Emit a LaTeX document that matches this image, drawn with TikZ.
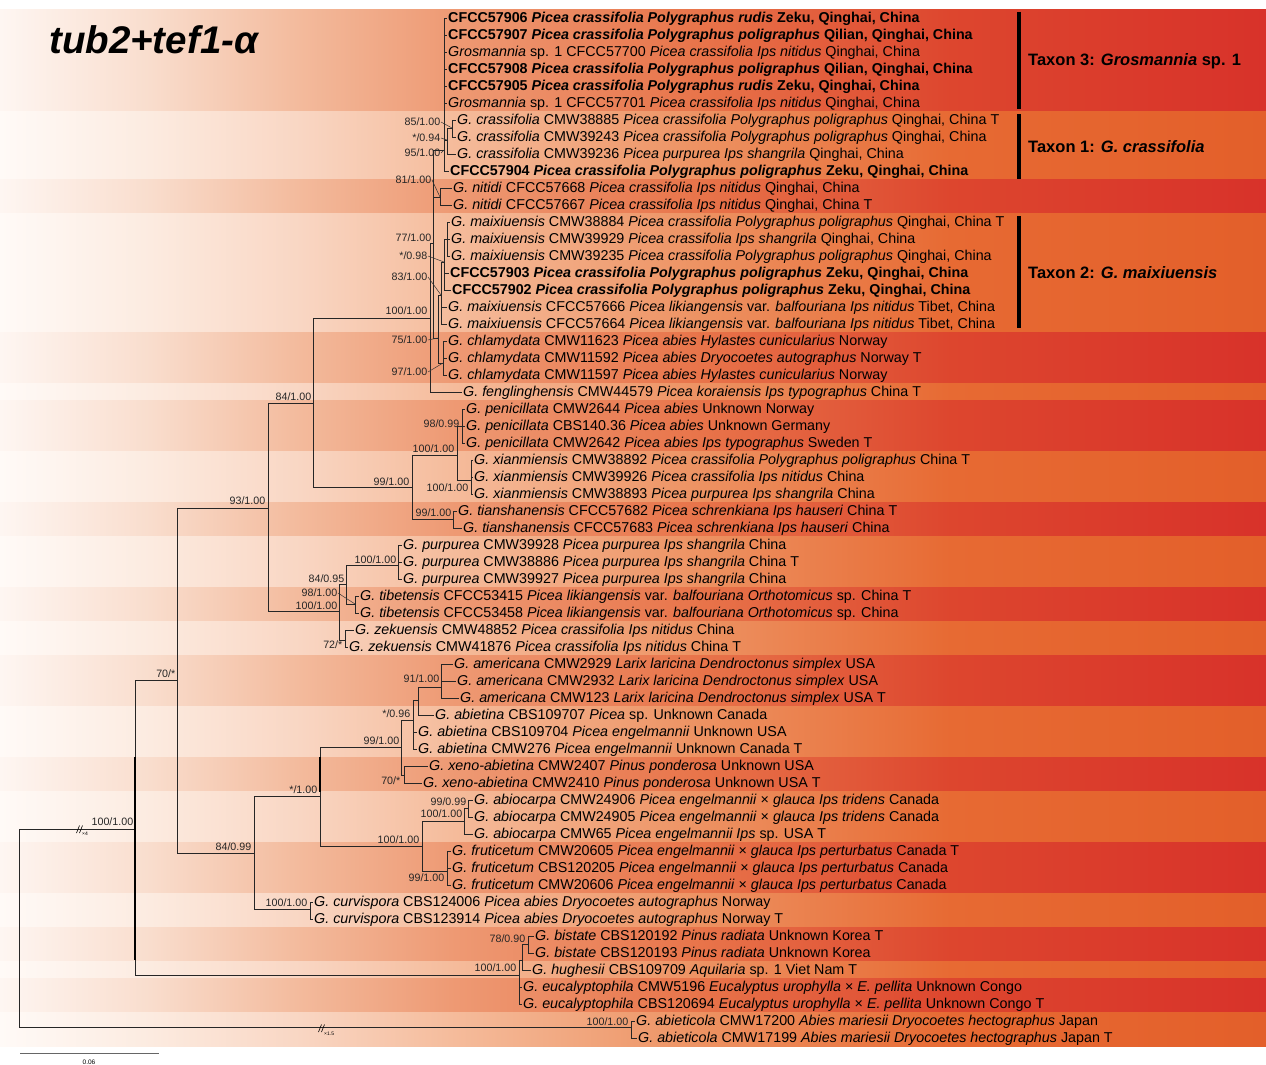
\documentclass[tikz,border=0pt]{standalone}
\usepackage{fontspec}
\setmainfont{Liberation Sans}
\definecolor{r0}{HTML}{FEF6F2}\definecolor{r1}{HTML}{F9DDCD}\definecolor{r2}{HTML}{F3BA9C}
\definecolor{r3}{HTML}{EE9A74}\definecolor{r4}{HTML}{E8744A}\definecolor{r5}{HTML}{DD462E}\definecolor{r6}{HTML}{D8322A}
\definecolor{o0}{HTML}{FFFAF7}\definecolor{o1}{HTML}{FCEBE0}\definecolor{o2}{HTML}{F9D6C3}
\definecolor{o3}{HTML}{F5BC9C}\definecolor{o4}{HTML}{ED9262}\definecolor{o5}{HTML}{E76A33}\definecolor{o6}{HTML}{E35F2A}
\newcommand{\bandrow}[3]{%
  \foreach \xa/\xb/\ia/\ib in {0/150/0/1,150/300/1/2,300/450/2/3,450/700/3/4,700/950/4/5,950/1266/5/6}{
    \shade[left color=#1\ia, right color=#1\ib] (\xa,#2) rectangle (\xb+0.7,#3);
  }}
\begin{document}
\begin{tikzpicture}[x=1pt,y=-1pt,
  br/.style={draw=black!85, line width=0.8pt},
  tip/.style={anchor=west, inner sep=1.5pt, font=\fontsize{14.3}{16}\selectfont, text height=10.5pt, text depth=1.5pt},
  supp/.style={anchor=east, inner sep=0.5pt, font=\fontsize{10.7}{12}\selectfont, text=black!85},
  lead/.style={draw=black!80, line width=0.5pt},
  taxbar/.style={line width=3.2pt, draw=black},
  taxlab/.style={anchor=west, inner sep=0pt, font=\fontsize{16.5}{18}\bfseries\selectfont},
]
\useasboundingbox (0,0) rectangle (1266,1065);
\fill[white] (0,0) rectangle (1266,1065);
% background bands
\bandrow{r}{9.5}{111.5}
\bandrow{o}{111.5}{179.5}
\bandrow{r}{179.5}{213.5}
\bandrow{o}{213.5}{332.5}
\bandrow{r}{332.5}{383.5}
\bandrow{o}{383.5}{400.5}
\bandrow{r}{400.5}{451.5}
\bandrow{o}{451.5}{502.5}
\bandrow{r}{502.5}{536.5}
\bandrow{o}{536.5}{587.5}
\bandrow{r}{587.5}{621.5}
\bandrow{o}{621.5}{655.5}
\bandrow{r}{655.5}{706.5}
\bandrow{o}{706.5}{757.5}
\bandrow{r}{757.5}{791.5}
\bandrow{o}{791.5}{842.5}
\bandrow{r}{842.5}{893.5}
\bandrow{o}{893.5}{927.5}
\bandrow{r}{927.5}{961.5}
\bandrow{o}{961.5}{978.5}
\bandrow{r}{978.5}{1012.5}
\bandrow{o}{1012.5}{1046}

% title
\node[anchor=base west, inner sep=0pt, font=\fontsize{38.5}{40}\bfseries\itshape\selectfont] (title) at (49,53) {tub2+tef1-α};

% tips
\node[tip] (t1) at (446.5,18) {\textbf{CFCC57906 \textit{Picea crassifolia Polygraphus rudis} Zeku, Qinghai, China}};
\node[tip] (t2) at (446.5,35) {\textbf{CFCC57907 \textit{Picea crassifolia Polygraphus poligraphus} Qilian, Qinghai, China}};
\node[tip] (t3) at (446.5,52) {\textit{Grosmannia} sp. 1 CFCC57700 \textit{Picea crassifolia Ips nitidus} Qinghai, China};
\node[tip] (t4) at (446.5,69) {\textbf{CFCC57908 \textit{Picea crassifolia Polygraphus poligraphus} Qilian, Qinghai, China}};
\node[tip] (t5) at (446.5,86) {\textbf{CFCC57905 \textit{Picea crassifolia Polygraphus rudis} Zeku, Qinghai, China}};
\node[tip] (t6) at (446.5,103) {\textit{Grosmannia} sp. 1 CFCC57701 \textit{Picea crassifolia Ips nitidus} Qinghai, China};
\node[tip] (t7) at (455.5,120) {\textit{G. crassifolia} CMW38885 \textit{Picea crassifolia Polygraphus poligraphus} Qinghai, China T};
\node[tip] (t8) at (455.5,137) {\textit{G. crassifolia} CMW39243 \textit{Picea crassifolia Polygraphus poligraphus} Qinghai, China};
\node[tip] (t9) at (455.5,154) {\textit{G. crassifolia} CMW39236 \textit{Picea purpurea Ips shangrila} Qinghai, China};
\node[tip] (t10) at (448.5,171) {\textbf{CFCC57904 \textit{Picea crassifolia Polygraphus poligraphus} Zeku, Qinghai, China}};
\node[tip] (t11) at (451.5,188) {\textit{G. nitidi} CFCC57668 \textit{Picea crassifolia Ips nitidus} Qinghai, China};
\node[tip] (t12) at (451.5,205) {\textit{G. nitidi} CFCC57667 \textit{Picea crassifolia Ips nitidus} Qinghai, China T};
\node[tip] (t13) at (449.5,222) {\textit{G. maixiuensis} CMW38884 \textit{Picea crassifolia Polygraphus poligraphus} Qinghai, China T};
\node[tip] (t14) at (449.5,239) {\textit{G. maixiuensis} CMW39929 \textit{Picea crassifolia Ips shangrila} Qinghai, China};
\node[tip] (t15) at (449.5,256) {\textit{G. maixiuensis} CMW39235 \textit{Picea crassifolia Polygraphus poligraphus} Qinghai, China};
\node[tip] (t16) at (448.5,273) {\textbf{CFCC57903 \textit{Picea crassifolia Polygraphus poligraphus} Zeku, Qinghai, China}};
\node[tip] (t17) at (450.5,290) {\textbf{CFCC57902 \textit{Picea crassifolia Polygraphus poligraphus} Zeku, Qinghai, China}};
\node[tip] (t18) at (446.5,307) {\textit{G. maixiuensis} CFCC57666 \textit{Picea likiangensis} var. \textit{balfouriana Ips nitidus} Tibet, China};
\node[tip] (t19) at (446.5,324) {\textit{G. maixiuensis} CFCC57664 \textit{Picea likiangensis} var. \textit{balfouriana Ips nitidus} Tibet, China};
\node[tip] (t20) at (446.5,341) {\textit{G. chlamydata} CMW11623 \textit{Picea abies Hylastes cunicularius} Norway};
\node[tip] (t21) at (446.5,358) {\textit{G. chlamydata} CMW11592 \textit{Picea abies Dryocoetes autographus} Norway T};
\node[tip] (t22) at (446.5,375) {\textit{G. chlamydata} CMW11597 \textit{Picea abies Hylastes cunicularius} Norway};
\node[tip] (t23) at (461.5,392) {\textit{G. fenglinghensis} CMW44579 \textit{Picea koraiensis Ips typographus} China T};
\node[tip] (t24) at (464.5,409) {\textit{G. penicillata} CMW2644 \textit{Picea abies} Unknown Norway};
\node[tip] (t25) at (464.5,426) {\textit{G. penicillata} CBS140.36 \textit{Picea abies} Unknown Germany};
\node[tip] (t26) at (464.5,443) {\textit{G. penicillata} CMW2642 \textit{Picea abies Ips typographus} Sweden T};
\node[tip] (t27) at (472.5,460) {\textit{G. xianmiensis} CMW38892 \textit{Picea crassifolia Polygraphus poligraphus} China T};
\node[tip] (t28) at (472.5,477) {\textit{G. xianmiensis} CMW39926 \textit{Picea crassifolia Ips nitidus} China};
\node[tip] (t29) at (472.5,494) {\textit{G. xianmiensis} CMW38893 \textit{Picea purpurea Ips shangrila} China};
\node[tip] (t30) at (456.5,511) {\textit{G. tianshanensis} CFCC57682 \textit{Picea schrenkiana Ips hauseri} China T};
\node[tip] (t31) at (461.5,528) {\textit{G. tianshanensis} CFCC57683 \textit{Picea schrenkiana Ips hauseri} China};
\node[tip] (t32) at (401.5,545) {\textit{G. purpurea} CMW39928 \textit{Picea purpurea Ips shangrila} China};
\node[tip] (t33) at (401.5,562) {\textit{G. purpurea} CMW38886 \textit{Picea purpurea Ips shangrila} China T};
\node[tip] (t34) at (401.5,579) {\textit{G. purpurea} CMW39927 \textit{Picea purpurea Ips shangrila} China};
\node[tip] (t35) at (358.5,596) {\textit{G. tibetensis} CFCC53415 \textit{Picea likiangensis} var. \textit{balfouriana Orthotomicus} sp. China T};
\node[tip] (t36) at (358.5,613) {\textit{G. tibetensis} CFCC53458 \textit{Picea likiangensis} var. \textit{balfouriana Orthotomicus} sp. China};
\node[tip] (t37) at (353.5,630) {\textit{G. zekuensis} CMW48852 \textit{Picea crassifolia Ips nitidus} China};
\node[tip] (t38) at (347.5,647) {\textit{G. zekuensis} CMW41876 \textit{Picea crassifolia Ips nitidus} China T};
\node[tip] (t39) at (452.5,664) {\textit{G. americana} CMW2929 \textit{Larix laricina Dendroctonus simplex} USA};
\node[tip] (t40) at (455.5,681) {\textit{G. americana} CMW2932 \textit{Larix laricina Dendroctonus simplex} USA};
\node[tip] (t41) at (458.5,698) {\textit{G. americana} CMW123 \textit{Larix laricina Dendroctonus simplex} USA T};
\node[tip] (t42) at (433.5,715) {\textit{G. abietina} CBS109707 \textit{Picea} sp. Unknown Canada};
\node[tip] (t43) at (416.5,732) {\textit{G. abietina} CBS109704 \textit{Picea engelmannii} Unknown USA};
\node[tip] (t44) at (416.5,749) {\textit{G. abietina} CMW276 \textit{Picea engelmannii} Unknown Canada T};
\node[tip] (t45) at (427.5,766) {\textit{G. xeno-abietina} CMW2407 \textit{Pinus ponderosa} Unknown USA};
\node[tip] (t46) at (421.5,783) {\textit{G. xeno-abietina} CMW2410 \textit{Pinus ponderosa} Unknown USA T};
\node[tip] (t47) at (472.5,800) {\textit{G. abiocarpa} CMW24906 \textit{Picea engelmannii} × \textit{glauca Ips tridens} Canada};
\node[tip] (t48) at (472.5,817) {\textit{G. abiocarpa} CMW24905 \textit{Picea engelmannii} × \textit{glauca Ips tridens} Canada};
\node[tip] (t49) at (472.5,834) {\textit{G. abiocarpa} CMW65 \textit{Picea engelmannii Ips} sp. USA T};
\node[tip] (t50) at (450.5,851) {\textit{G. fruticetum} CMW20605 \textit{Picea engelmannii} × \textit{glauca Ips perturbatus} Canada T};
\node[tip] (t51) at (450.5,868) {\textit{G. fruticetum} CBS120205 \textit{Picea engelmannii} × \textit{glauca Ips perturbatus} Canada};
\node[tip] (t52) at (450.5,885) {\textit{G. fruticetum} CMW20606 \textit{Picea engelmannii} × \textit{glauca Ips perturbatus} Canada};
\node[tip] (t53) at (312.5,902) {\textit{G. curvispora} CBS124006 \textit{Picea abies Dryocoetes autographus} Norway};
\node[tip] (t54) at (312.5,919) {\textit{G. curvispora} CBS123914 \textit{Picea abies Dryocoetes autographus} Norway T};
\node[tip] (t55) at (533.5,936) {\textit{G. bistate} CBS120192 \textit{Pinus radiata} Unknown Korea T};
\node[tip] (t56) at (533.5,953) {\textit{G. bistate} CBS120193 \textit{Pinus radiata} Unknown Korea};
\node[tip] (t57) at (530.5,970) {\textit{G. hughesii} CBS109709 \textit{Aquilaria} sp. 1 Viet Nam T};
\node[tip] (t58) at (521.5,987) {\textit{G. eucalyptophila} CMW5196 \textit{Eucalyptus urophylla} × \textit{E. pellita} Unknown Congo};
\node[tip] (t59) at (521.5,1004) {\textit{G. eucalyptophila} CBS120694 \textit{Eucalyptus urophylla} × \textit{E. pellita} Unknown Congo T};
\node[tip] (t60) at (634.5,1021) {\textit{G. abieticola} CMW17200 \textit{Abies mariesii Dryocoetes hectographus} Japan};
\node[tip] (t61) at (636.5,1038) {\textit{G. abieticola} CMW17199 \textit{Abies mariesii Dryocoetes hectographus} Japan T};

% internal nodes
\coordinate (R0) at (19,928);
\coordinate (A) at (135,829);
\coordinate (B) at (177,680);
\coordinate (C) at (268,508);
\coordinate (E) at (313,403);
\coordinate (F) at (430,318);
\coordinate (F1) at (433,243);
\coordinate (NT3) at (444,150);
\coordinate (Ncr) at (447,140);
\coordinate (Ncr2) at (452,128);
\coordinate (Nnit) at (440,197);
\coordinate (N75) at (438,338);
\coordinate (N83) at (441,295);
\coordinate (N098) at (444,262);
\coordinate (N77) at (447,239);
\coordinate (Nch) at (443,363);
\coordinate (G) at (412,487);
\coordinate (H) at (457,455);
\coordinate (P) at (462,426);
\coordinate (X) at (471,480);
\coordinate (Nti) at (453,519);
\coordinate (D) at (339,611);
\coordinate (N84) at (346,584);
\coordinate (Npu) at (398,565);
\coordinate (Ntb) at (355,604);
\coordinate (Nzk) at (345,640);
\coordinate (I) at (254,853);
\coordinate (J) at (320,796);
\coordinate (K) at (401,747);
\coordinate (N096) at (413,720);
\coordinate (Na) at (418,700);
\coordinate (Nam) at (441,687);
\coordinate (Nxe) at (404,775);
\coordinate (L) at (422,846);
\coordinate (M) at (464,821);
\coordinate (M2) at (468.5,808);
\coordinate (Nfr) at (447,871);
\coordinate (Ncu) at (310,909);
\coordinate (Q) at (519,975);
\coordinate (Rr) at (522,960);
\coordinate (Nbi) at (528,944);
\coordinate (Ab) at (631,1027);

% branches
\foreach \p/\c in {R0/A, R0/Ab, A/B, A/Q, B/C, B/I, C/E, C/D, E/F, E/G,
  F/F1, F/t23.west, F1/NT3, F1/Nnit, F1/N75,
  NT3/t1.west, NT3/t2.west, NT3/t3.west, NT3/t4.west, NT3/t5.west, NT3/t6.west, NT3/Ncr, NT3/t10.west,
  Ncr/Ncr2, Ncr/t9.west, Ncr2/t7.west, Ncr2/t8.west, Nnit/t11.west, Nnit/t12.west,
  N75/N83, N75/Nch, N83/N098, N83/t18.west, N83/t19.west, N098/N77, N098/t16.west, N098/t17.west,
  N77/t13.west, N77/t14.west, N77/t15.west, Nch/t20.west, Nch/t21.west, Nch/t22.west,
  G/H, G/Nti, H/P, H/X, P/t24.west, P/t25.west, P/t26.west, X/t27.west, X/t28.west, X/t29.west,
  Nti/t30.west, Nti/t31.west,
  D/N84, D/Nzk, N84/Npu, N84/Ntb, Npu/t32.west, Npu/t33.west, Npu/t34.west, Ntb/t35.west, Ntb/t36.west,
  Nzk/t37.west, Nzk/t38.west,
  I/J, I/Ncu, J/K, J/L, K/N096, K/Nxe, N096/Na, N096/t43.west, N096/t44.west, Na/Nam, Na/t42.west,
  Nam/t39.west, Nam/t40.west, Nam/t41.west, Nxe/t45.west, Nxe/t46.west,
  L/M, L/Nfr, M/M2, M/t49.west, M2/t47.west, M2/t48.west, Nfr/t50.west, Nfr/t51.west, Nfr/t52.west,
  Ncu/t53.west, Ncu/t54.west,
  Q/Rr, Q/t58.west, Q/t59.west, Rr/Nbi, Rr/t57.west, Nbi/t55.west, Nbi/t56.west,
  Ab/t60.west, Ab/t61.west}
  {\draw[br] (\p) |- (\c);}
% thicker overlapping segments
\draw[black, line width=1.8pt] (135,757) -- (135,960);
\draw[black, line width=1.8pt] (320,757) -- (320,792);

% support values
\node[supp] (sA) at (134,822) {100/1.00};
\node[supp] (sB) at (176,674) {70/*};
\node[supp] (sC) at (266,501) {93/1.00};
\node[supp] (sE) at (312,397) {84/1.00};
\node[supp] (sF) at (428,311) {100/1.00};
\node[supp] (sG) at (410,482) {99/1.00};
\node[supp] (sH) at (455,449) {100/1.00};
\node[supp] (sP) at (460,424) {98/0.99};
\node[supp] (sX) at (469,488) {100/1.00};
\node[supp] (sTi) at (452,513) {99/1.00};
\node[supp] (sPu) at (397,560) {100/1.00};
\node[supp] (s84) at (345,579) {84/0.95};
\node[supp] (sTb) at (338,593) {98/1.00};
\node[supp] (sD) at (338,606) {100/1.00};
\node[supp] (sZk) at (343,645) {72/*};
\node[supp] (sI) at (252,847) {84/0.99};
\node[supp] (sJ) at (318,790) {*/1.00};
\node[supp] (sK) at (400,741) {99/1.00};
\node[supp] (s096) at (411,714) {*/0.96};
\node[supp] (sAm) at (440,679) {91/1.00};
\node[supp] (sXe) at (401,781) {70/*};
\node[supp] (sM2) at (467,802) {99/0.99};
\node[supp] (sM) at (463,814) {100/1.00};
\node[supp] (sL) at (420,840) {100/1.00};
\node[supp] (sFr) at (445,878) {99/1.00};
\node[supp] (sCu) at (308,903) {100/1.00};
\node[supp] (sBi) at (526,939) {78/0.90};
\node[supp] (sQ) at (517,968) {100/1.00};
\node[supp] (sAb) at (629,1022) {100/1.00};
\node[supp] (s85) at (441,122) {85/1.00};
\node[supp] (s094) at (441,138) {*/0.94};
\node[supp] (s95) at (441,153) {95/1.00};
\node[supp] (s81) at (432,180) {81/1.00};
\node[supp] (s77) at (432,238) {77/1.00};
\node[supp] (s098) at (428,256) {*/0.98};
\node[supp] (s83) at (428,277) {83/1.00};
\node[supp] (s75) at (428,340) {75/1.00};
\node[supp] (s97) at (428,372) {97/1.00};
% leaders
\draw[lead] (s85.east) -- (Ncr2);
\draw[lead] (s094.east) -- (Ncr);
\draw[lead] (s95.east) -- (NT3);
\draw[lead] (s81.east) -- (Nnit);
\draw[lead] (s098.east) -- (N098);
\draw[lead] (s83.east) -- (N83);
\draw[lead] (s75.east) -- (N75);
\draw[lead] (s97.east) -- (Nch);
\draw[lead] (sTb.east) -- (Ntb);

% branch breaks
\draw[black, line width=0.6pt] (76.5,833) -- (79.5,825.5) (79.5,833) -- (82.5,825.5);
\node[anchor=west, inner sep=0pt, font=\fontsize{5}{5}\selectfont] (bk1) at (82,834) {×4};
\draw[black, line width=0.6pt] (318.5,1032) -- (321.5,1024.5) (321.5,1032) -- (324.5,1024.5);
\node[anchor=west, inner sep=0pt, font=\fontsize{5}{5}\selectfont] (bk2) at (324,1034) {×1.5};

% scale bar
\draw[black!60, line width=0.9pt] (20,1053) -- (159,1053);
\node[inner sep=0pt, font=\fontsize{6.5}{7}\selectfont] (sc) at (89,1062) {0.06};

% taxon bars
\draw[taxbar] (1019,12) -- (1019,109);
\draw[taxbar] (1019,114) -- (1019,179);
\draw[taxbar] (1019,216) -- (1019,328);
\node[taxlab] (tx3) at (1028,61.5) {Taxon 3: \textit{Grosmannia} sp. 1};
\node[taxlab] (tx1) at (1028,147) {Taxon 1: \textit{G. crassifolia}};
\node[taxlab] (tx2) at (1028,273) {Taxon 2: \textit{G. maixiuensis}};
\end{tikzpicture}
\end{document}
